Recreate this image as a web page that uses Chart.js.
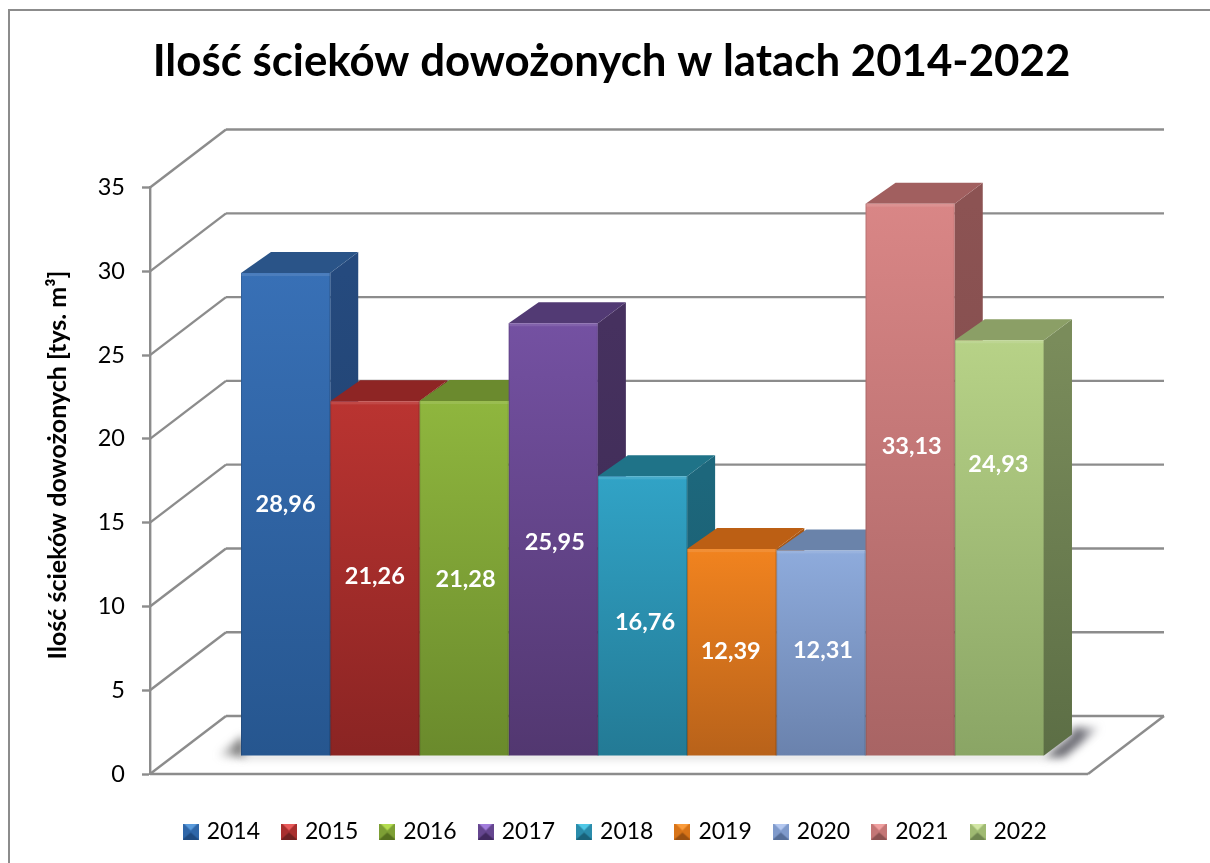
<!DOCTYPE html>
<html lang="pl">
<head>
<meta charset="utf-8">
<title>Ilość ścieków dowożonych</title>
<script src="https://cdn.jsdelivr.net/npm/chart.js@4"></script>
<style>
html,body{margin:0;padding:0;background:#fff}
canvas{display:block}
</style>
</head>
<body>
<canvas id="c" width="1210" height="863"></canvas>
<script>
const titleText = 'Ilość ścieków dowożonych w latach 2014-2022';
const yAxisTitle = 'Ilość ścieków dowożonych [tys. m³]';
const years = ['2014','2015','2016','2017','2018','2019','2020','2021','2022'];
const values = [28.96,21.26,21.28,25.95,16.76,12.39,12.31,33.13,24.93];
const yTickMax = 35;
const yTickStep = 5;

// colours per series: front top, front bottom, side top, side bottom, cap
const faceColours = [
  ['#3870b6','#26568f','#254a7e','#1f3e68','#2a5488'],
  ['#ba3431','#8a2423','#7e2221','#6e1d1c','#8e2524'],
  ['#8fb63e','#6a8a2c','#66832b','#566f25','#6b8a2e'],
  ['#7451a2','#523770','#46315f','#3c2a52','#523a74'],
  ['#31a3c6','#237a95','#1d677c','#1a5a6c','#1f7388'],
  ['#f1831f','#b8621a','#a85613','#964c11','#bc5f14'],
  ['#8eabdc','#6a82ad','#5d7397','#526684','#6a83aa'],
  ['#d98686','#a86464','#8c5353','#7c4949','#a15f5f'],
  ['#b7d287','#8aa565','#7a8c5b','#5c6e45','#8b9f66']
];
const markerColours = [
  ['#5a9bdc','#2f66a8','#1f4a80'],['#e85a5a','#a82f2e','#702120'],['#b4dc50','#7d9f35','#55701f'],
  ['#a27ddc','#65468f','#41295f'],['#50c8e6','#2a8cab','#19627a'],['#fa9c3c','#d87418','#9a5010'],
  ['#b4c8f0','#7f9acb','#566e98'],['#f0a0a0','#c47676','#8c5252'],['#d2e6a5','#9fba72','#6f8650']
];

const GREY = '#8c8c8c';
const FONT = 'Lato, Carlito, Calibri, sans-serif';

function makeMarker(c){
  const m = document.createElement('canvas');
  m.width = 16; m.height = 16;
  const g = m.getContext('2d');
  g.fillStyle = c[1]; g.fillRect(0,0,16,16);
  g.fillStyle = c[2];
  g.beginPath(); g.moveTo(0,16); g.lineTo(8,9); g.lineTo(16,16); g.closePath(); g.fill();
  g.fillStyle = c[0];
  g.beginPath(); g.moveTo(1,0); g.lineTo(15,0); g.lineTo(8,7); g.closePath(); g.fill();
  return m;
}
const markers = markerColours.map(makeMarker);

function line(ctx,x1,y1,x2,y2){ctx.beginPath();ctx.moveTo(x1,y1);ctx.lineTo(x2,y2);ctx.stroke();}

const scene = {
  id:'scene',
  afterLayout(chart,args,opts){
    chart.legend.left += opts.legendShift;
    chart.legend.right += opts.legendShift;
  },
  beforeDraw(chart){
    const ctx = chart.ctx;
    ctx.save();
    ctx.fillStyle='#fff'; ctx.fillRect(0,0,chart.width,chart.height);
    ctx.strokeStyle='#8c8c8c'; ctx.lineWidth=2;
    ctx.beginPath(); ctx.moveTo(9,chart.height); ctx.lineTo(9,10); ctx.lineTo(chart.width,10); ctx.stroke();
    ctx.restore();
  },
  beforeDatasetsDraw(chart,args,opts){
    const ctx = chart.ctx, y = chart.scales.y, a = chart.chartArea;
    const wx = opts.wallX, wy = opts.wallY;
    const left = a.left, floorRight = a.right - opts.floorInset;
    ctx.save();
    ctx.strokeStyle = GREY; ctx.lineWidth = 2.4;
    y.ticks.forEach(t=>{
      const p = y.getPixelForValue(t.value);
      line(ctx,left,p,left+wx,p+wy);
      line(ctx,left+wx,p+wy,floorRight+wx,p+wy);
    });
    const p0 = y.getPixelForValue(0);
    line(ctx,left,p0,floorRight,p0);
    line(ctx,floorRight,p0,floorRight+wx,p0+wy);

    const metas = chart.getSortedVisibleDatasetMetas().slice().sort((m,n)=>m.index-n.index);
    const dx = opts.depthX, dy = opts.depthY;
    const first = metas[0].data[0], last = metas[metas.length-1].data[0];
    // soft floor shadows
    const fl = first.x-first.width/2, lr = last.x+last.width/2, base = first.base;
    ctx.save();
    ctx.filter='blur(4px)';
    let g = ctx.createLinearGradient(fl-24,0,fl,0);
    g.addColorStop(0,'rgba(90,90,90,0)'); g.addColorStop(1,'rgba(90,90,90,0.9)');
    ctx.fillStyle=g;
    ctx.beginPath(); ctx.moveTo(fl+3,base+1); ctx.lineTo(fl-26,base+1); ctx.lineTo(fl+3,base-20); ctx.closePath(); ctx.fill();
    g = ctx.createLinearGradient(lr,0,lr+56,0);
    g.addColorStop(0,'rgba(80,80,85,0.9)'); g.addColorStop(0.65,'rgba(85,85,95,0.85)'); g.addColorStop(1,'rgba(110,110,120,0.15)');
    ctx.fillStyle=g;
    ctx.beginPath(); ctx.moveTo(lr,base+2); ctx.lineTo(lr+dx,base+dy); ctx.lineTo(lr+dx,base+dy-7); ctx.lineTo(lr+56,base+dy-7); ctx.lineTo(lr+20,base+2); ctx.closePath(); ctx.fill();
    ctx.fillStyle='rgba(90,90,90,0.45)';
    ctx.fillRect(fl+1,base-1,lr-fl-1,3);
    ctx.restore();

    metas.forEach(m=>{
      const b = m.data[0], c = faceColours[m.index];
      const l = b.x-b.width/2, r = b.x+b.width/2, top = b.y, bot = b.base;
      const sg = ctx.createLinearGradient(0,top,0,bot);
      sg.addColorStop(0,c[2]); sg.addColorStop(1,c[3]);
      ctx.fillStyle = sg;
      ctx.beginPath(); ctx.moveTo(r,top); ctx.lineTo(r+dx,top+dy); ctx.lineTo(r+dx,bot+dy); ctx.lineTo(r,bot); ctx.closePath(); ctx.fill();
      ctx.fillStyle = c[4];
      ctx.beginPath(); ctx.moveTo(l,top); ctx.lineTo(l+dx+2,top+dy); ctx.lineTo(r+dx,top+dy); ctx.lineTo(r,top); ctx.closePath(); ctx.fill();
    });
    ctx.restore();
  },
  afterDatasetsDraw(chart,args,opts){
    const ctx = chart.ctx;
    ctx.save();
    const metas = chart.getSortedVisibleDatasetMetas();
    metas.forEach(m=>{
      const b = m.data[0];
      const l = b.x-b.width/2, r = b.x+b.width/2;
      // bevel highlights on the front face
      ctx.fillStyle='rgba(255,255,255,0.10)';
      ctx.fillRect(l,b.y,b.width,3);
      ctx.fillStyle='rgba(0,0,0,0.14)';
      ctx.fillRect(l,b.y,1,b.base-b.y);
      ctx.fillRect(r-1,b.y,1,b.base-b.y);
    });
    ctx.fillStyle='#fff';
    ctx.font='bold 23.5px '+FONT;
    ctx.textAlign='center'; ctx.textBaseline='middle';
    metas.forEach(m=>{
      const b = m.data[0], v = values[m.index];
      ctx.fillText(v.toFixed(2).replace('.',','), b.x + opts.labelNudgeX[m.index], (b.y+b.base)/2 + opts.labelNudgeY[m.index]);
    });
    ctx.restore();
  },
  afterDraw(chart,args,opts){
    const ctx = chart.ctx;
    ctx.save();
    ctx.translate(opts.axisTitleX, opts.axisTitleY);
    ctx.rotate(-Math.PI/2);
    ctx.fillStyle='#000';
    ctx.font='bold 25px '+FONT;
    ctx.textAlign='center'; ctx.textBaseline='middle';
    ctx.fillText(yAxisTitle,0,0);
    ctx.restore();
  }
};

const datasets = years.map((yr,i)=>({
  label: yr,
  data: [values[i]],
  yAxisID: 'yBars',
  borderWidth: 0,
  backgroundColor(ctx){
    const c = faceColours[i];
    const ch = ctx.chart;
    if(!ch.chartArea || ctx.dataIndex===undefined) return c[0];
    const s = ch.scales.yBars;
    const g = ch.ctx.createLinearGradient(0,s.getPixelForValue(values[i]),0,s.getPixelForValue(0));
    g.addColorStop(0,c[0]); g.addColorStop(1,c[1]);
    return g;
  }
}));

new Chart(document.getElementById('c'),{
  type:'bar',
  data:{labels:[''],datasets},
  plugins:[scene],
  options:{
    responsive:false,
    animation:false,
    categoryPercentage:0.8152,
    barPercentage:1,
    layout:{padding:{left:88,right:75,top:0,bottom:10}},
    scales:{
      x:{
        display:true,
        grid:{display:false},
        border:{display:false},
        ticks:{display:false},
        afterFit(s){s.height=21.5;}
      },
      y:{
        position:'left',
        min:0,max:yTickMax,
        ticks:{stepSize:yTickStep,color:'#000',padding:17,font:{family:FONT,size:23.5}},
        grid:{drawOnChartArea:false,drawTicks:true,tickLength:8,tickColor:GREY,tickWidth:2.4},
        border:{color:GREY,width:2.4},
        afterFit(s){s.width=62;}
      },
      // hidden scale of the bars' front plane: its zero sits above the floor's front edge
      yBars:{
        display:false,
        position:'left',
        min:-1.111,max:34.096
      }
    },
    plugins:{
      title:{
        display:true,text:titleText,color:'#000',
        font:{family:FONT,size:43.8,weight:'bold',lineHeight:1.2},
        padding:{top:36,bottom:99}
      },
      legend:{
        display:true,position:'bottom',
        labels:{
          color:'#000',
          font:{family:FONT,size:23},
          usePointStyle:true,pointStyleWidth:9,boxHeight:16,
          padding:24.5,
          generateLabels(chart){
            return chart.data.datasets.map((d,i)=>({
              text:d.label,datasetIndex:i,pointStyle:markers[i],fontColor:'#000',
              lineWidth:0,hidden:false
            }));
          }
        }
      },
      tooltip:{enabled:false},
      scene:{
        wallX:76,wallY:-58,floorInset:47,
        depthX:28,depthY:-21,
        labelNudgeX:[0,0,1.5,1.5,2.5,-1,2,1.5,-1],
        labelNudgeY:[-10,-2,1,3,7,-1,-3,-33,-83],
        axisTitleX:58,axisTitleY:465,
        legendShift:5
      }
    }
  }
});
</script>
</body>
</html>
